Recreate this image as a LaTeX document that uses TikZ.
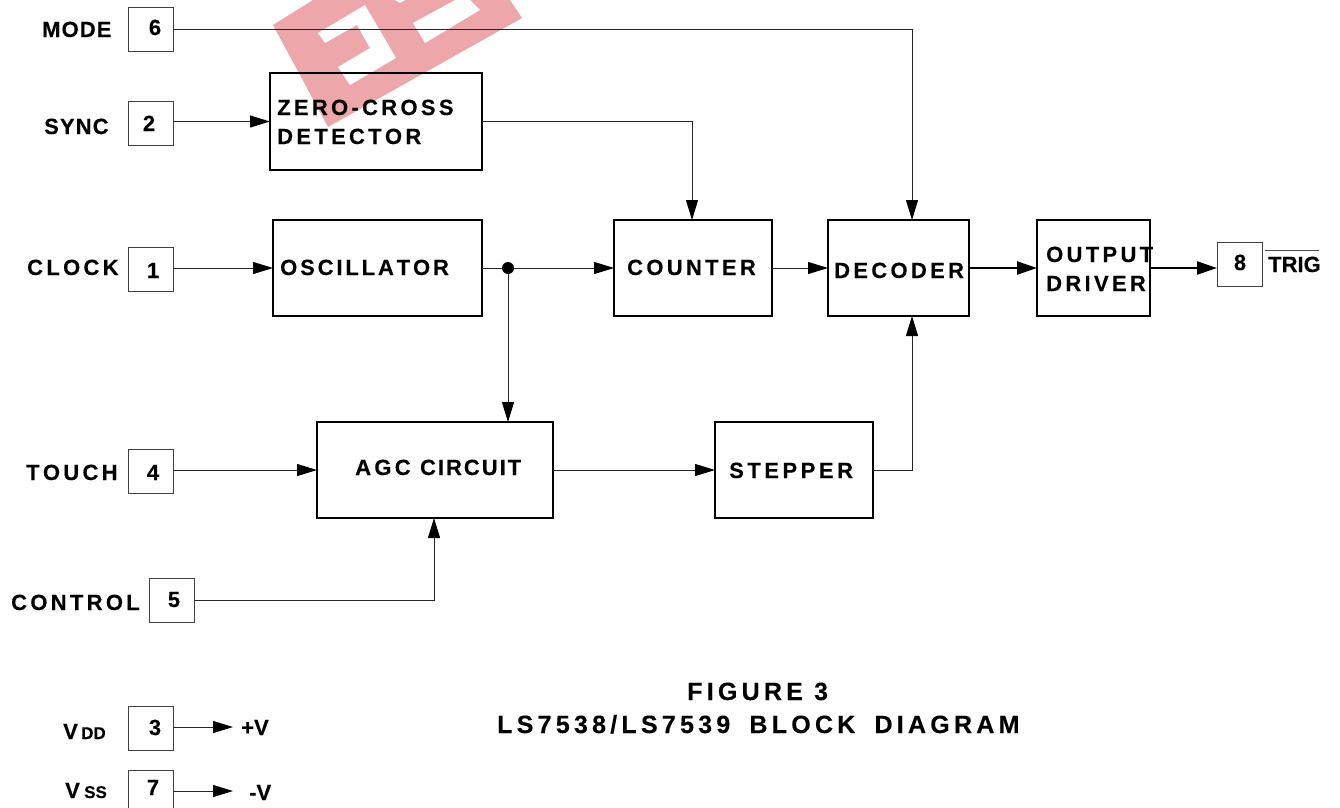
\documentclass[tikz,border=0pt]{standalone}
\usepackage{fontspec}
\usetikzlibrary{arrows.meta}
\setmainfont[BoldFeatures={FakeBold=0.25}]{Liberation Sans}
\newfontfamily\lsA[LetterSpace=15,Kerning=Off,BoldFeatures={FakeBold=0.25}]{Liberation Sans}
\newfontfamily\lsB[LetterSpace=5,Kerning=Off,BoldFeatures={FakeBold=0.25}]{Liberation Sans}
\newfontfamily\lsC[LetterSpace=17,Kerning=Off,BoldFeatures={FakeBold=0.25}]{Liberation Sans}
\newfontfamily\lsD[LetterSpace=9,Kerning=Off,BoldFeatures={FakeBold=0.25}]{Liberation Sans}
\newfontfamily\lsE[LetterSpace=13,Kerning=Off,BoldFeatures={FakeBold=0.25}]{Liberation Sans}
\newfontfamily\lsF[LetterSpace=16,Kerning=Off,BoldFeatures={FakeBold=0.25}]{Liberation Sans}
\definecolor{wm}{HTML}{EDA6AA}
\tikzset{
  blk/.style={draw=black,line width=2.6pt,inner sep=0pt,outer sep=0pt},
  pin/.style={draw=black!75,line width=1pt,inner sep=0pt,outer sep=0pt,minimum width=45pt,minimum height=44pt},
  wire/.style={line width=1pt,draw=black!85},
  sig/.style={wire,-{Triangle[length=20pt,width=12pt,color=black,fill=black]}},
  bold sig/.style={line width=2.2pt,draw=black,-{Triangle[length=20pt,width=13pt]}},
  lbl/.style={anchor=base west,inner sep=0pt,font=\fontsize{22}{22}\selectfont\bfseries\lsA},
  lbs/.style={anchor=base west,inner sep=0pt,font=\fontsize{22}{22}\selectfont\bfseries\lsB},
  lbp/.style={anchor=base west,inner sep=0pt,font=\fontsize{22}{22}\selectfont\bfseries},
  lbsub/.style={anchor=base west,inner sep=0pt,font=\fontsize{17}{17}\selectfont\bfseries},
  title/.style={anchor=base west,inner sep=0pt,font=\fontsize{25}{25}\selectfont\bfseries\lsC},
  num/.style={anchor=base,inner sep=0pt,font=\fontsize{22}{22}\selectfont\bfseries},
  junction/.style={circle,fill=black,inner sep=0pt,minimum size=12pt},
}
\begin{document}
\begin{tikzpicture}[x=1pt,y=-1pt]
\useasboundingbox (0,0) rectangle (1340,807);
% watermark
\fill[wm] (273,25) -- (313,0) -- (510,0) -- (522,18) -- (328,127) -- cycle;
\fill[white] (318,33) -- (365,5) -- (396,58) -- (350,85) -- (338,67) -- (370,48) -- (357,25) -- (325,43) -- cycle;
\fill[white] (413,23) -- (455,0) -- (470,0) -- (480,10) -- (425,43) -- cycle;
\fill[white] (395,0) -- (405,0) -- (400,3) -- cycle;
% blocks
\node[blk,minimum width=212pt,minimum height=97pt] (zc) at (376,121.5) {};
\node[blk,minimum width=209pt,minimum height=96pt] (osc) at (377.5,268) {};
\node[blk,minimum width=158pt,minimum height=96pt] (cnt) at (693,268) {};
\node[blk,minimum width=141pt,minimum height=96pt] (dec) at (898.5,268) {};
\node[blk,minimum width=113pt,minimum height=96pt] (drv) at (1093.5,268) {};
\node[blk,minimum width=236pt,minimum height=96pt] (agc) at (435,470) {};
\node[blk,minimum width=158pt,minimum height=96pt] (stp) at (794,470) {};
% pins
\node[pin] (p6) at (150.5,29) {};
\node[pin] (p2) at (150.5,123) {};
\node[pin] (p1) at (150.5,269) {};
\node[pin] (p4) at (150.5,471.5) {};
\node[pin] (p5) at (171.5,600.5) {};
\node[pin] (p8) at (1239.5,264.5) {};
\node[pin] (p3) at (150.5,728) {};
\node[pin] (p7) at (150.5,792) {};
\node[num] (n6) at (155,35) {6};
\node[num] (n2) at (149,131) {2};
\node[num] (n1) at (153,278) {1};
\node[num] (n4) at (153,480) {4};
\node[num] (n5) at (174,607) {5};
\node[num] (n8) at (1240,270) {8};
\node[num] (n3) at (155,735) {3};
\node[num] (n7) at (153,795) {7};
% pin labels
\node[lbs] (tMode) at (42,37) {MODE};
\node[lbs] (tSync) at (44,134) {SYNC};
\node[lbl] (tClock) at (27,275) {CLOCK};
\node[lbl] (tTouch) at (26,480) {TOUCH};
\node[lbl] (tCtrl) at (11,610) {CONTROL};
\node[lbp] (tTrig) at (1268,272) {TRIG};
\coordinate (barL) at (1265,250);
\coordinate (barR) at (1319,250);
\draw[black!70,line width=1pt] (barL) -- (barR);
% block text
\node[lbl] (tZc) at (277,115) {ZERO-CROSS};
\node[lbl] (tDet) at (277,144) {DETECTOR};
\node[lbl,font=\fontsize{22}{22}\selectfont\bfseries\lsE] (tOsc) at (280,275) {OSCILLATOR};
\node[lbl] (tCnt) at (627,275) {COUNTER};
\node[lbl] (tDec) at (834,278) {DECODER};
\node[lbl] (tOut) at (1046,262) {OUTPUT};
\node[lbl] (tDrv) at (1046,291) {DRIVER};
\node[lbl] (tAgc) at (355,475) {AGC {\lsD CIRCUIT}};
\node[lbl,font=\fontsize{22}{22}\selectfont\bfseries\lsF] (tStp) at (729,478) {STEPPER};
% power
\node[lbp] (tVd) at (63,739) {V};
\node[lbsub] (tDD) at (81,739) {DD};
\node[lbp] (tVs) at (65,798) {V};
\node[lbsub] (tSS) at (84,798) {SS};
\node[lbp] (tPlus) at (241,735) {+V};
\node[lbp] (tMinus) at (249,800) {-V};
% caption
\node[title] (cap1) at (687,700) {FIGURE 3};
\node[title] (cap2) at (497,733) {LS7538/LS7539\hspace{8pt} BLOCK\hspace{8pt} DIAGRAM};
% connectors
\coordinate (decT) at (912,220);
\coordinate (decB) at (912,316);
\coordinate (cntT) at (692,220);
\coordinate (agcB) at (434,518);
\node[junction] (jn) at (508,268) {};
\coordinate (agcT) at (508,422);
\draw[sig] (p6.east) -| (decT);
\draw[sig] (p2.east |- zc.west) -- (zc.west);
\draw[sig] (zc.east) -| (cntT);
\draw[sig] (p1.east |- osc.west) -- (osc.west);
\draw[wire] (osc.east) -- (jn);
\draw[sig] (jn) -- (cnt.west);
\draw[sig] (jn) -- (agcT);
\draw[sig] (cnt.east) -- (dec.west);
\draw[bold sig] (dec.east) -- (drv.west);
\draw[bold sig] (drv.east) -- (p8.west |- drv.east);
\draw[sig] (p4.east |- agc.west) -- (agc.west);
\draw[sig] (p5.east) -| (agcB);
\draw[sig] (agc.east) -- (stp.west);
\draw[sig] (stp.east) -| (decB);
\coordinate (plusEnd) at (233,727);
\coordinate (minusEnd) at (233,791);
\draw[sig] (p3.east |- plusEnd) -- (plusEnd);
\draw[sig] (p7.east |- minusEnd) -- (minusEnd);
\end{tikzpicture}
\end{document}
